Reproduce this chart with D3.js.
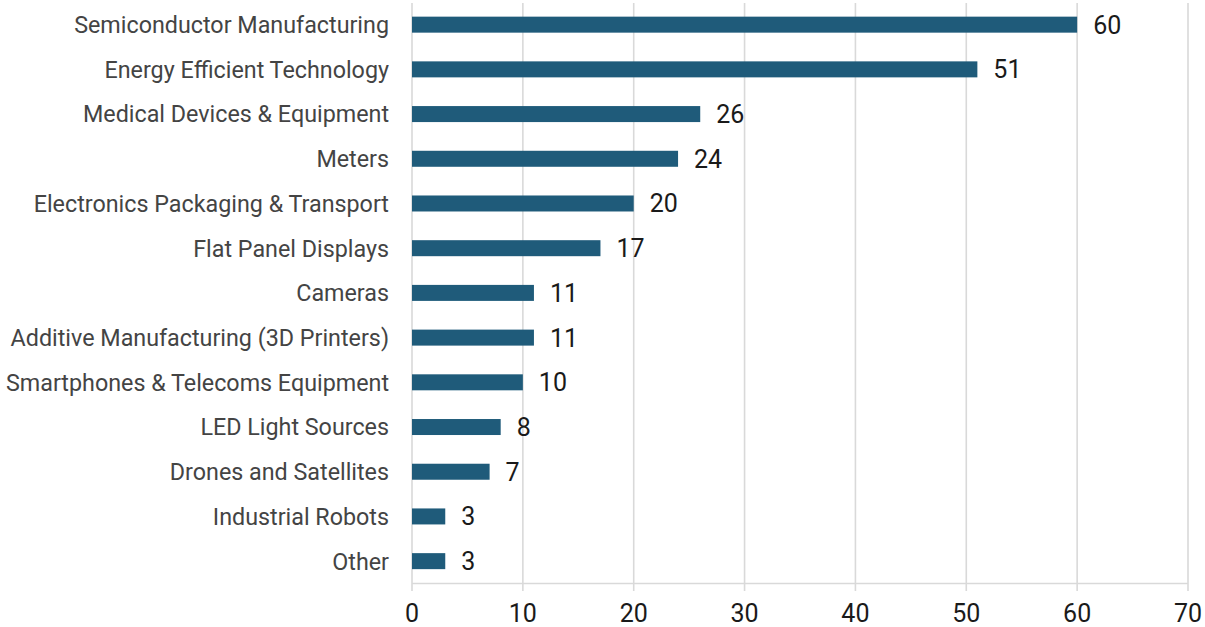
<!DOCTYPE html>
<html><head><meta charset="utf-8">
<script src="https://cdn.jsdelivr.net/npm/d3@7"></script>
<style>body{margin:0;background:#fff}svg{display:block}text{font-family:Roboto,"Noto Sans",sans-serif}</style>
</head><body><svg id="c" width="1205" height="627"></svg>
<script>
const categories = ["Semiconductor Manufacturing","Energy Efficient Technology","Medical Devices & Equipment","Meters","Electronics Packaging & Transport","Flat Panel Displays","Cameras","Additive Manufacturing (3D Printers)","Smartphones & Telecoms Equipment","LED Light Sources","Drones and Satellites","Industrial Robots","Other"];
const values = [60,51,26,24,20,17,11,11,10,8,7,3,3];
const xTicks = [0,10,20,30,40,50,60,70];

const svg = d3.select("#c");
const x = d3.scaleLinear().domain([0,70]).range([412,1188]);
const y = d3.scaleBand().domain(categories).range([2.3,583.5]);
const barH = 16;

svg.append("g").selectAll("line").data(xTicks).join("line")
  .attr("x1",d=>x(d)).attr("x2",d=>x(d)).attr("y1",3).attr("y2",591)
  .attr("stroke","#d9d9d9").attr("stroke-width",1.6);
svg.append("line").attr("x1",x(0)).attr("x2",x(70)).attr("y1",583.5).attr("y2",583.5)
  .attr("stroke","#d9d9d9").attr("stroke-width",1.6);

svg.append("g").selectAll("rect").data(values).join("rect")
  .attr("x",x(0)).attr("y",(d,i)=>y(categories[i])+y.bandwidth()/2-barH/2)
  .attr("width",d=>x(d)-x(0)).attr("height",barH).attr("fill","#1f5b7a");

svg.append("g").selectAll("text").data(values).join("text")
  .attr("x",d=>x(d)+16).attr("y",(d,i)=>y(categories[i])+y.bandwidth()/2)
  .attr("dy","0.36em").attr("font-size",25).attr("fill","#1a1a1a").text(d=>d);

svg.append("g").selectAll("text").data(categories).join("text")
  .attr("x",389).attr("y",d=>y(d)+y.bandwidth()/2).attr("dy","0.36em")
  .attr("text-anchor","end").attr("font-size",23.3).attr("fill","#444").text(d=>d);

svg.append("g").selectAll("text").data(xTicks).join("text")
  .attr("x",d=>x(d)).attr("y",612.5).attr("dy","0.36em").attr("text-anchor","middle")
  .attr("font-size",25).attr("fill","#1a1a1a").text(d=>d);
</script></body></html>
